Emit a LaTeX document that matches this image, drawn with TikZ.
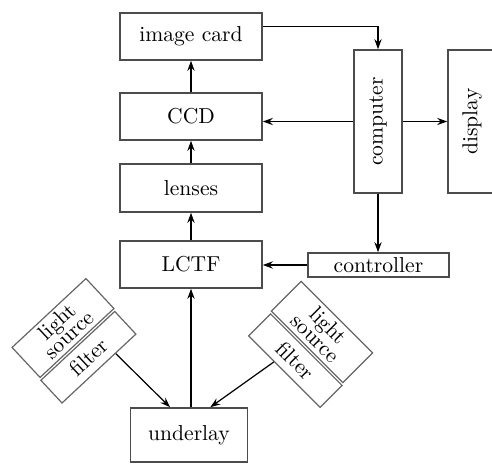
\documentclass[tikz,border=0pt]{standalone}
\usepackage{tikz}
\usetikzlibrary{arrows.meta,positioning,calc}

\begin{document}
\begin{tikzpicture}[x=0.5pt,y=-0.5pt,
      blk/.style={draw=black!70,line width=0.8pt,minimum width=71pt,
                  minimum height=23.5pt,inner sep=0pt,
                  font=\fontsize{10.8}{12}\selectfont},
      tall/.style={blk,minimum width=24pt,minimum height=71.5pt},
      tilt/.style={draw=black!60,line width=0.6pt,minimum width=50.5pt,
                   inner sep=0pt,align=center,
                   font=\fontsize{10.8}{9}\selectfont},
      arr/.style={-{Stealth[length=5pt,width=3.6pt]},line width=0.6pt},
  ]
  \clip (0,0) rectangle (492,465);

  %--- optical path (middle column) ---
  \node[blk] (card) at (191,36.5) {image card};
  \node[blk] (ccd) at (191,116.5) {CCD};
  \node[blk,minimum height=24pt] (lens) at (191,188) {lenses};
  \node[blk] (lctf) at (191,264.5) {LCTF};
  \node[blk,minimum width=58.5pt,minimum height=27pt] (under) at (189,435) {underlay};

  %--- control side ---
  \node[tall] (comp) at (378,121.5) {\rotatebox{90}{computer}};
  \node[tall] (disp) at (472,121.5) {\rotatebox{90}{display}};
  \node[blk,minimum width=70.5pt,minimum height=12pt] (ctrl) at (378.5,265) {controller};

  %--- tilted light sources ---
  \node[tilt,rotate=43,minimum height=20.5pt] (src1) at (63,328) {light\\source};
  \node[tilt,rotate=43,minimum height=15.5pt,below=1pt of src1] (flt1) {filter};
  \node[tilt,rotate=-45,minimum height=21pt] (src2) at (322,332) {light\\source};
  \node[tilt,rotate=-45,minimum height=15.5pt,below=1pt of src2] (flt2) {filter};

  % upward chain
  \draw[arr] (ccd) -- (card);
  \draw[arr] (lens) -- (ccd);
  \draw[arr] (lctf) -- (lens);
  \draw[arr] (under.north -| lctf.south) -- (lctf);

  % computer links
  \draw[arr] ([yshift=5pt]card.east) -| (comp.north);
  \draw[arr] (comp.west) -- (comp.west -| ccd.east);
  \draw[arr] (comp.east) -- (disp.west);
  \draw[arr] (comp.south) -- (comp.south |- ctrl.north);
  \draw[arr] (ctrl.west) -- (ctrl.west -| lctf.east);

  % illumination
  \draw[arr] ($(flt1.south)!0.44!(flt1.south east)$) -- ($(under.north west)!0.34!(under.north east)$);
  \draw[arr] ($(flt2.south)!0.28!(flt2.south west)$) -- ($(under.north west)!0.68!(under.north east)$);
\end{tikzpicture}
\end{document}
